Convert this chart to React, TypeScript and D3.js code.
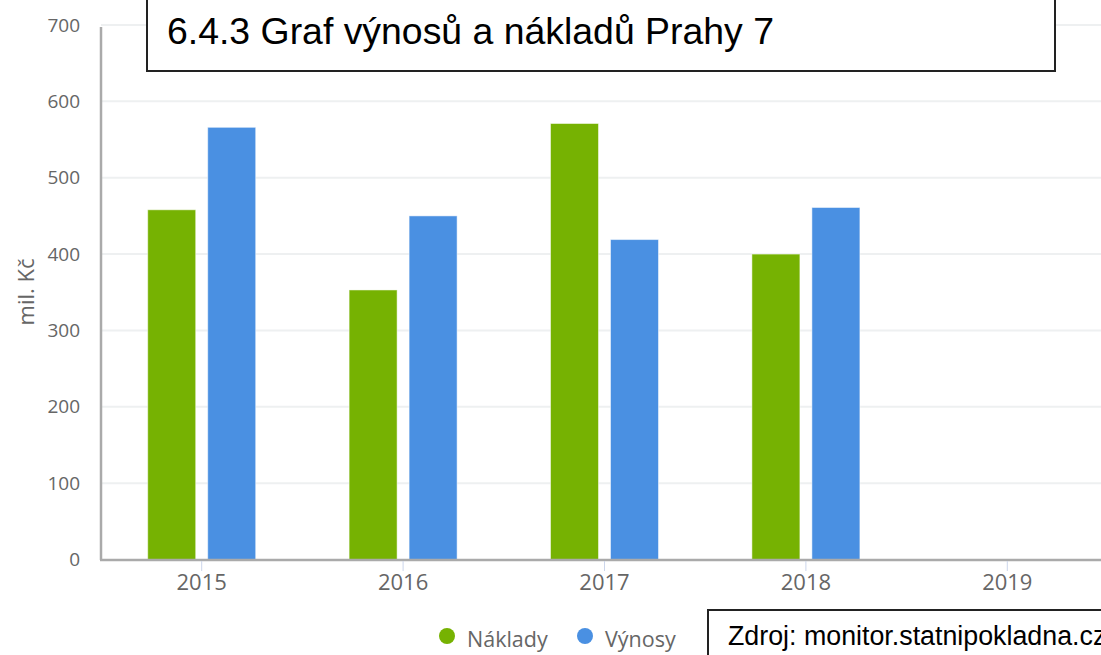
import React from 'react';
import * as d3 from 'd3';

const years = ['2015', '2016', '2017', '2018', '2019'];
const naklady = [458, 353, 571, 400, null];
const vynosy = [566, 450, 419, 461, null];
const yTicks = [0, 100, 200, 300, 400, 500, 600, 700];
const seriesNames = ['Náklady', 'Výnosy'];
const seriesColors = ['#76b202', '#4a90e2'];

const W = 1101;
const H = 655;

export default function App() {
  const x = d3.scaleBand<string>().domain(years).range([101, 1108]);
  const y = d3.scaleLinear().domain([0, 700]).range([559.5, 25]);
  const barW = 48;
  const gap = 12;

  const series = [naklady, vynosy];

  return (
    <svg width={W} height={H} style={{ position: 'absolute', left: 0, top: 0, background: '#fff' }}>
      {/* grid */}
      {yTicks.filter(t => t > 0).map(t => (
        <line key={t} x1={101} x2={W} y1={y(t)} y2={y(t)} stroke="#eef0f1" strokeWidth={2} />
      ))}
      {/* y tick labels */}
      {yTicks.map(t => (
        <text key={t} x={80} y={y(t)} dy="0.35em" textAnchor="end" fill="#666" fontFamily="'Open Sans', sans-serif" fontSize={19}>
          {t}
        </text>
      ))}
      <text transform={`translate(34,292) rotate(-90)`} textAnchor="middle" fill="#666" fontFamily="'Open Sans', sans-serif" fontSize={22}>
        mil. Kč
      </text>
      {/* bars */}
      {series.map((vals, si) =>
        vals.map((v, i) => {
          if (v == null) return null;
          const cx = (x(years[i]) as number) + x.bandwidth() / 2;
          const bx = si === 0 ? cx - gap / 2 - barW : cx + gap / 2;
          return (
            <rect key={`${si}-${i}`} x={bx} y={y(v)} width={barW} height={y(0) - y(v)} fill={seriesColors[si]} stroke="#fff" strokeOpacity={0.5} strokeWidth={1} />
          );
        })
      )}
      {/* axes */}
      <line x1={101} x2={101} y1={27} y2={560} stroke="#aaa" strokeWidth={2.5} />
      <line x1={100} x2={W} y1={560} y2={560} stroke="#aaa" strokeWidth={2.5} />
      {years.map(yr => {
        const cx = (x(yr) as number) + x.bandwidth() / 2;
        return (
          <g key={yr}>
            <line x1={cx} x2={cx} y1={561} y2={571} stroke="#ccd6eb" strokeWidth={1} />
            <text x={cx} y={590} textAnchor="middle" fill="#666" fontFamily="'Open Sans', sans-serif" fontSize={22}>
              {yr}
            </text>
          </g>
        );
      })}
      {/* legend */}
      {seriesNames.map((n, i) => {
        const lx = [447, 585][i];
        return (
          <g key={n}>
            <circle cx={lx} cy={636} r={8} fill={seriesColors[i]} />
            <text x={lx + 20} y={647} fill="#666" fontFamily="'Open Sans', sans-serif" fontSize={21.5}>
              {n}
            </text>
          </g>
        );
      })}
      {/* title box */}
      <rect x={147} y={-5} width={908} height={76} fill="#fff" stroke="#222" strokeWidth={2} />
      <text x={167} y={44} fill="#000" fontFamily="'Liberation Sans', Arial, sans-serif" fontSize={37.4}>
        6.4.3 Graf výnosů a nákladů Prahy 7
      </text>
      {/* source box */}
      <rect x={708} y={610} width={420} height={60} fill="#fff" stroke="#222" strokeWidth={2} />
      <text x={728} y={645} fill="#000" fontFamily="'Liberation Sans', Arial, sans-serif" fontSize={26.8}>
        Zdroj: monitor.statnipokladna.cz
      </text>
    </svg>
  );
}
